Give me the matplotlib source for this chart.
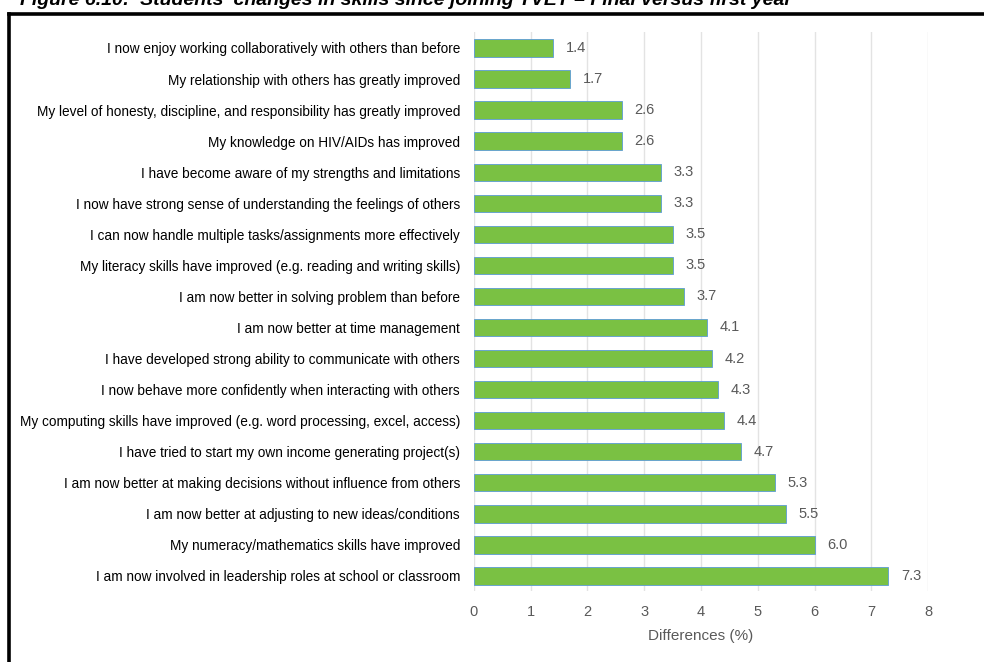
import matplotlib.pyplot as plt
from matplotlib.lines import Line2D

plt.rcParams['font.family'] = ['Liberation Sans', 'DejaVu Sans']

# skill statements, top to bottom
skills = [
    "I now enjoy working collaboratively with others than before",
    "My relationship with others has greatly improved",
    "My level of honesty, discipline, and responsibility has greatly improved",
    "My knowledge on HIV/AIDs has improved",
    "I have become aware of my strengths and limitations",
    "I now have strong sense of understanding the feelings of others",
    "I can now handle multiple tasks/assignments more effectively",
    "My literacy skills have improved (e.g. reading and writing skills)",
    "I am now better in solving problem than before",
    "I am now better at time management",
    "I have developed strong ability to communicate with others",
    "I now behave more confidently when interacting with others",
    "My computing skills have improved (e.g. word processing, excel, access)",
    "I have tried to start my own income generating project(s)",
    "I am now better at making decisions without influence from others",
    "I am now better at adjusting to new ideas/conditions",
    "My numeracy/mathematics skills have improved",
    "I am now involved in leadership roles at school or classroom",
]
diffs = [1.4, 1.7, 2.6, 2.6, 3.3, 3.3, 3.5, 3.5, 3.7, 4.1, 4.2, 4.3, 4.4, 4.7, 5.3, 5.5, 6.0, 7.3]

fig = plt.figure(figsize=(9.84, 6.62), dpi=100)
ax = fig.add_axes([0.4817, 0.1065, 0.4614, 0.8445])

pos = list(range(len(skills)))
ax.barh(pos, diffs, height=0.56, color='#7AC143', edgecolor='#5B9BD5', linewidth=0.6, zorder=3)
for p, v in zip(pos, diffs):
    ax.annotate(f"{v:.1f}", (v, p), xytext=(9, 0), textcoords='offset points',
                va='center', ha='left', fontsize=10.5, color='#595959')

ax.set_ylim(len(skills) - 0.5, -0.5)
ax.set_xlim(0, 8)
ax.set_xticks(range(9))
ax.set_yticks(pos)
ax.set_yticklabels(skills, fontsize=9.8, color='#000000')
ax.tick_params(axis='x', colors='#595959', labelsize=10.5, length=0, pad=10)
ax.tick_params(axis='y', length=0, pad=10)
ax.grid(axis='x', color='#E3E3E3', linewidth=1, zorder=0)
for s in ax.spines.values():
    s.set_visible(False)
ax.set_xlabel('Differences (%)', fontsize=11, color='#595959', labelpad=7)

# caption sits above the frame and runs off the top edge
fig.text(0.02, 0.992, "Figure 6.10:  Students' changes in skills since joining TVET \u2013 Final versus first year",
         fontsize=14, fontweight='bold', fontstyle='italic', va='baseline', ha='left')

# black frame around the chart (left and top edges)
frame_top = 1 - 14 / 662
frame_left = 9 / 984
fig.add_artist(Line2D([frame_left, 1], [frame_top, frame_top], color='black', linewidth=2.6,
                      transform=fig.transFigure))
fig.add_artist(Line2D([frame_left, frame_left], [0, frame_top], color='black', linewidth=2.6,
                      transform=fig.transFigure))

fig.savefig('out.png', dpi=100)
